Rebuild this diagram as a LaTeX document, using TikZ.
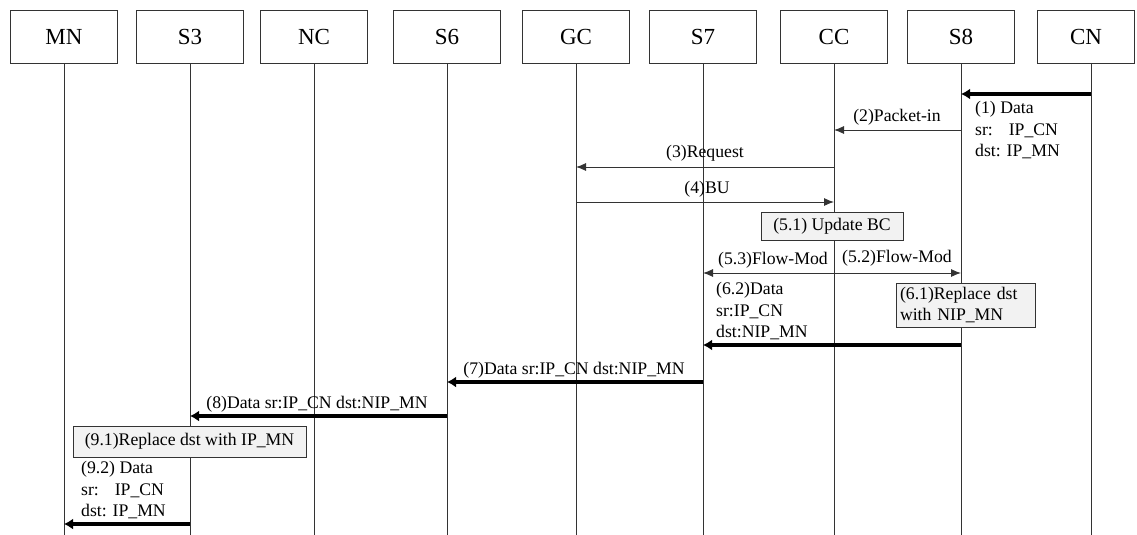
\documentclass[tikz,border=0pt]{standalone}
\usepackage{fontspec}
\setmainfont{Liberation Serif}
\usetikzlibrary{arrows.meta}
\definecolor{ln}{HTML}{333333}
\definecolor{notefill}{HTML}{F2F2F2}
\tikzset{
  actor/.style={draw=ln, line width=0.9pt, fill=white, minimum width=107pt, minimum height=53pt, inner sep=0pt, font=\fontsize{23}{26}\selectfont},
  life/.style={draw=ln, line width=0.9pt},
  msg/.style={draw=ln, line width=0.9pt, -{Latex[length=10pt,width=8pt]}},
  datamsg/.style={draw=black, line width=3.3pt, -{Latex[length=9pt,width=11pt]}},
  lbl/.style={inner sep=0pt, font=\fontsize{17.7}{21.3}\selectfont},
  mlbl/.style={inner sep=0pt, align=left, anchor=west, font=\fontsize{17.7}{21.3}\selectfont},
  note/.style={draw=ln, line width=0.9pt, fill=notefill, inner sep=0pt, align=left, font=\fontsize{17.7}{21.3}\selectfont}
}
\begin{document}
\begin{tikzpicture}[x=1pt,y=-1pt]
\useasboundingbox (0,0) rectangle (1137,535);
% actors
\node[actor] (MN) at (64,36.5) {MN};
\node[actor] (S3) at (190,36.5) {S3};
\node[actor] (NC) at (314,36.5) {NC};
\node[actor] (S6) at (447,36.5) {S6};
\node[actor] (GC) at (576,36.5) {GC};
\node[actor] (S7) at (703,36.5) {S7};
\node[actor] (CC) at (834,36.5) {CC};
\node[actor] (S8) at (961,36.5) {S8};
\node[actor, minimum width=97pt] (CN) at (1086,36.5) {CN};
\coordinate (CNl) at (1091,63);
% lifelines
\foreach \a in {MN,S3,NC,S6,GC,S7,CC,S8}{
  \draw[life] (\a.south) -- (\a.south |- 0,535);
}
\draw[life] (CNl) -- (CNl |- 0,535);
% (1)
\draw[datamsg] (CNl |- 0,94) -- (S8.south |- 0,94);
\node[mlbl] (t1) at (975,130) {(1) Data\\sr:\hspace{0.9em}IP\_CN\\dst: IP\_MN};
% (2)
\draw[msg] (S8.south |- 0,130) -- (CC.south |- 0,130);
\node[lbl] (t2) at (897,117) {(2)Packet-in};
% (3)
\draw[msg] (CC.south |- 0,167) -- (GC.south |- 0,167);
\node[lbl] (t3) at (705,153) {(3)Request};
% (4)
\draw[msg] (GC.south |- 0,202) -- (CC.south |- 0,202);
\node[lbl] (t4) at (707,189) {(4)BU};
% (5.1)
\node[note, minimum width=142pt, minimum height=28pt, align=center] (n51) at (832,226) {(5.1) Update BC};
% (5.3) and (5.2)
\draw[msg] (CC.south |- 0,273) -- (S7.south |- 0,273);
\node[lbl] (t53) at (773,260) {(5.3)Flow-Mod};
\draw[msg] (CC.south |- 0,273) -- (S8.south |- 0,273);
\node[lbl] (t52) at (897,258) {(5.2)Flow-Mod};
% (6.1)
\node[note, minimum width=139pt, minimum height=44pt, text width=131pt] (n61) at (965.5,305) {(6.1)Replace dst\\with NIP\_MN};
% (6.2)
\node[mlbl] (t62) at (716,311) {(6.2)Data\\sr:IP\_CN\\dst:NIP\_MN};
\draw[datamsg] (S8.south |- 0,345) -- (S7.south |- 0,345);
% (7)
\draw[datamsg] (S7.south |- 0,382) -- (S6.south |- 0,382);
\node[lbl] (t7) at (574,370) {(7)Data sr:IP\_CN dst:NIP\_MN};
% (8)
\draw[datamsg] (S6.south |- 0,416) -- (S3.south |- 0,416);
\node[lbl] (t8) at (317,404) {(8)Data sr:IP\_CN dst:NIP\_MN};
% (9.1)
\node[note, minimum width=233pt, minimum height=31pt, align=center] (n91) at (189.5,441.5) {(9.1)Replace dst with IP\_MN};
% (9.2)
\node[mlbl] (t92) at (81,490) {(9.2) Data\\sr:\hspace{0.9em}IP\_CN\\dst: IP\_MN};
\draw[datamsg] (S3.south |- 0,524) -- (MN.south |- 0,524);
\end{tikzpicture}
\end{document}
